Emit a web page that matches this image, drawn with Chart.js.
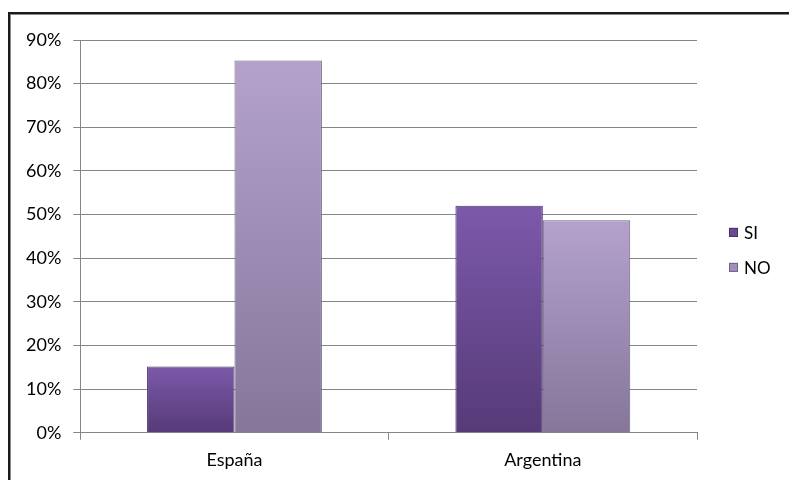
<!DOCTYPE html>
<html>
<head>
<meta charset="utf-8">
<script src="https://cdn.jsdelivr.net/npm/chart.js@4"></script>
<style>
  html, body { margin: 0; padding: 0; background: #fff; }
  #marco {
    position: absolute; left: 8px; top: 12px; width: 800px; height: 480px;
    border-top: 2px solid #1a1a1a; border-left: 2px solid #1a1a1a;
    box-shadow: inset 1px 1px 0 #888;
  }
  #wrap { position: absolute; left: 0; top: 0; width: 789px; height: 480px; }
</style>
</head>
<body>
<div id="marco"></div>
<div id="wrap"><canvas id="grafico" width="789" height="480"></canvas></div>
<script>
// Eje X
const paises = ['España', 'Argentina'];

// Valores (fracción)
const valoresSI = [0.152, 0.52];
const valoresNO = [0.853, 0.487];

// Etiquetas del eje Y
const ticksY = [0, 0.1, 0.2, 0.3, 0.4, 0.5, 0.6, 0.7, 0.8, 0.9];

// Degradado vertical por barra (arriba claro, abajo oscuro)
function degradado(arriba, abajo) {
  return function (ctx) {
    const chart = ctx.chart;
    if (!chart.chartArea || ctx.type !== 'data') return arriba;
    const y = chart.scales.y;
    const top = y.getPixelForValue(ctx.raw);
    const bottom = y.getPixelForValue(0);
    const g = chart.ctx.createLinearGradient(0, top, 0, bottom);
    g.addColorStop(0, arriba);
    g.addColorStop(1, abajo);
    return g;
  };
}

const data = {
  labels: paises,
  datasets: [{
      // Barras SI - morado oscuro
      label: 'SI',
      data: valoresSI,
      backgroundColor: degradado('#7c59aa', '#563a78'),
      borderColor: '#4a3366',
      borderWidth: 1,
      legendColor: '#6a4a93'
    },
    {
      // Barras NO - lila claro
      label: 'NO',
      data: valoresNO,
      backgroundColor: degradado('#b4a2cd', '#85769a'),
      borderColor: '#6f6282',
      borderWidth: 1,
      legendColor: '#a28fbd'
    }
  ]
};

const fuente = { family: 'Lato', size: 18, lineHeight: 0.9 };

// Leyenda a la derecha, dibujada a mano junto al área del gráfico
const leyenda = {
  id: 'leyenda',
  afterDraw(chart) {
    const c = chart.ctx;
    const area = chart.chartArea;
    const x = area.right + 32;
    const y0 = (area.top + area.bottom) / 2 - 4;
    c.save();
    c.font = '17px Lato';
    c.textBaseline = 'middle';
    chart.data.datasets.forEach(function (ds, i) {
      const y = y0 + i * 35;
      c.fillStyle = ds.legendColor;
      c.fillRect(x, y - 4.5, 9, 9);
      c.strokeStyle = ds.borderColor;
      c.lineWidth = 1;
      c.strokeRect(x + 0.5, y - 4, 8, 8);
      c.fillStyle = '#000';
      c.fillText(ds.label, x + 15, y + 1);
    });
    c.restore();
  }
};

const config = {
  type: 'bar',
  data: data,
  options: {
    responsive: false,
    animation: false,
    devicePixelRatio: 1,
    layout: { padding: { top: 40, right: 92, left: 14, bottom: 0 } },
    datasets: { bar: { categoryPercentage: 0.567, barPercentage: 1.0 } },
    plugins: {
      tooltip: { enabled: false },
      legend: { display: false }
    },
    scales: {
      x: {
        offset: true,
        grid: {
          offset: true,
          drawOnChartArea: false,
          drawTicks: true,
          tickLength: 7,
          color: '#868686'
        },
        border: { color: '#868686' },
        ticks: { color: '#000', font: fuente, padding: 12 }
      },
      y: {
        min: 0,
        max: 0.9,
        afterBuildTicks: function (axis) {
          axis.ticks = ticksY.map(function (v) { return { value: v }; });
        },
        grid: { color: '#868686', tickLength: 7 },
        border: { color: '#868686' },
        ticks: {
          color: '#000',
          font: { family: 'Lato', size: 18 },
          padding: 12,
          callback: function (v) { return Math.round(v * 100) + '%'; }
        }
      }
    }
  },
  plugins: [leyenda]
};

const grafico = new Chart(document.getElementById('grafico'), config);
</script>
</body>
</html>
